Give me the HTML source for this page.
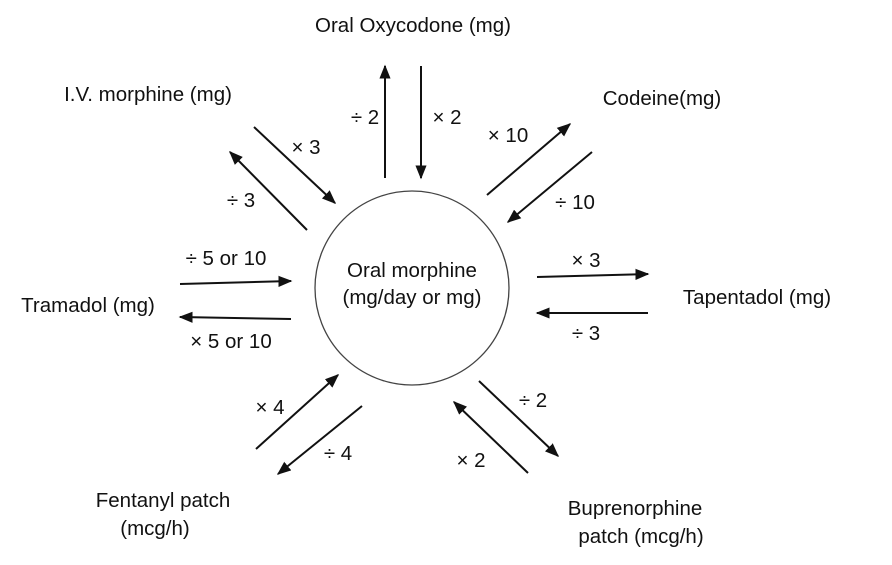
<!DOCTYPE html>
<html><head><meta charset="utf-8"><style>
html,body{margin:0;padding:0;background:#fff}
svg{display:block}
text{font-family:"Liberation Sans",Arial,sans-serif;font-size:20.5px;fill:#111}
</style></head><body>
<svg width="892" height="565" viewBox="0 0 892 565">
<defs><marker id="ah" viewBox="0 0 10 10" refX="9" refY="5" markerWidth="7" markerHeight="7" orient="auto"><path d="M0,1 L10,5 L0,9 z" fill="#111"/></marker></defs>
<circle cx="412" cy="288" r="97" fill="#fff" stroke="#444" stroke-width="1.3"/>
<text x="412" y="277" text-anchor="middle">Oral morphine</text>
<text x="412" y="304" text-anchor="middle">(mg/day or mg)</text>
<g stroke="#111" stroke-width="2" marker-end="url(#ah)">
<line x1="385" y1="178" x2="385" y2="66"/>
<line x1="421" y1="66" x2="421" y2="178"/>
<line x1="487" y1="195" x2="570" y2="124"/>
<line x1="592" y1="152" x2="508" y2="222"/>
<line x1="537" y1="277" x2="648" y2="274"/>
<line x1="648" y1="313" x2="537" y2="313"/>
<line x1="479" y1="381" x2="558" y2="456"/>
<line x1="528" y1="473" x2="454" y2="402"/>
<line x1="256" y1="449" x2="338" y2="375"/>
<line x1="362" y1="406" x2="278" y2="474"/>
<line x1="180" y1="284" x2="291" y2="281"/>
<line x1="291" y1="319" x2="180" y2="317"/>
<line x1="254" y1="127" x2="335" y2="203"/>
<line x1="307" y1="230" x2="230" y2="152"/>
</g>
<g>
<text x="413" y="32" text-anchor="middle">Oral Oxycodone (mg)</text>
<text x="148" y="101" text-anchor="middle">I.V. morphine (mg)</text>
<text x="662" y="105" text-anchor="middle">Codeine(mg)</text>
<text x="757" y="304" text-anchor="middle">Tapentadol (mg)</text>
<text x="88" y="312" text-anchor="middle">Tramadol (mg)</text>
<text x="163" y="507" text-anchor="middle">Fentanyl patch</text>
<text x="155" y="535" text-anchor="middle">(mcg/h)</text>
<text x="635" y="515" text-anchor="middle">Buprenorphine</text>
<text x="641" y="543" text-anchor="middle">patch (mcg/h)</text>
</g>
<g>
<text x="365" y="124" text-anchor="middle">÷ 2</text>
<text x="447" y="124" text-anchor="middle">× 2</text>
<text x="508" y="142" text-anchor="middle">× 10</text>
<text x="575" y="209" text-anchor="middle">÷ 10</text>
<text x="586" y="267" text-anchor="middle">× 3</text>
<text x="586" y="340" text-anchor="middle">÷ 3</text>
<text x="533" y="407" text-anchor="middle">÷ 2</text>
<text x="471" y="467" text-anchor="middle">× 2</text>
<text x="270" y="414" text-anchor="middle">× 4</text>
<text x="338" y="460" text-anchor="middle">÷ 4</text>
<text x="226" y="265" text-anchor="middle">÷ 5 or 10</text>
<text x="231" y="348" text-anchor="middle">× 5 or 10</text>
<text x="306" y="154" text-anchor="middle">× 3</text>
<text x="241" y="207" text-anchor="middle">÷ 3</text>
</g>
</svg>
</body></html>
